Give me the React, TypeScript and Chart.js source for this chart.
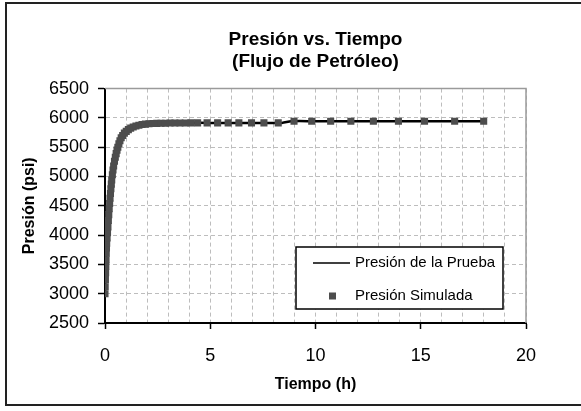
import React, { useEffect, useRef } from "react";
import { Chart, registerables } from "chart.js";

Chart.register(...registerables);

// Simulated pressure (markers)
const simTimes = [
  0.0, 0.01, 0.02, 0.03, 0.04, 0.05, 0.06, 0.07, 0.08, 0.1, 0.12, 0.14, 0.16, 0.18, 0.2,
  0.22, 0.24, 0.26, 0.28, 0.3, 0.32, 0.35, 0.38, 0.41, 0.45, 0.49, 0.53, 0.57, 0.61, 0.66,
  0.71, 0.77, 0.84, 0.92, 1.01, 1.11, 1.22, 1.34, 1.47, 1.61, 1.76, 1.92, 2.09, 2.27, 2.46,
  2.66, 2.87, 3.09, 3.32, 3.56, 3.81, 4.08, 4.4, 4.85, 5.35, 5.85, 6.36, 6.96, 7.55, 8.23,
  8.98, 9.82, 10.72, 11.68, 12.75, 13.94, 15.18, 16.61, 17.99,
];
const simPressures = [
  3000, 3120, 3240, 3360, 3470, 3580, 3690, 3780, 3860, 3950, 4040, 4140, 4250, 4350, 4450,
  4540, 4630, 4710, 4790, 4870, 4940, 5030, 5110, 5180, 5260, 5330, 5390, 5450, 5500, 5560,
  5610, 5660, 5700, 5740, 5770, 5800, 5825, 5845, 5862, 5876, 5886, 5894, 5900, 5904, 5907,
  5909, 5910, 5912, 5913, 5914, 5914, 5915, 5915, 5915, 5915, 5915, 5915, 5915, 5915, 5915,
  5943, 5943, 5943, 5944, 5944, 5944, 5944, 5944, 5944,
];

// Test pressure (line)
const testTimes = [
  0, 0.05, 0.1, 0.2, 0.3, 0.4, 0.5, 0.6, 0.8, 1.0, 1.3, 1.6, 2.0, 2.5, 3.0, 4.0, 5.0, 6.0,
  7.0, 8.4, 8.85, 10, 12, 14, 16, 18,
];
const testPressures = [
  3000, 3580, 3950, 4450, 4870, 5150, 5350, 5490, 5690, 5765, 5835, 5874, 5898, 5908, 5912,
  5915, 5915, 5915, 5915, 5915, 5943, 5943, 5944, 5944, 5944, 5944,
];

const xTicks = [0, 5, 10, 15, 20];
const yTicks = [2500, 3000, 3500, 4000, 4500, 5000, 5500, 6000, 6500];

const titleLines = ["Presión vs. Tiempo", "(Flujo de Petróleo)"];
const xTitle = "Tiempo (h)";
const yTitle = "Presión (psi)";
const testLabel = "Presión de la Prueba";
const simLabel = "Presión Simulada";

const FONT = "'Liberation Sans', Arial, sans-serif";
const MARKER = "#4d4d4d";
const GRID = "#bdbdbd";

const framePlugin = {
  id: "frameAndLegend",
  afterDatasetsDraw(chart: any) {
    const { ctx, chartArea } = chart;
    const { left, right, top, bottom } = chartArea;
    ctx.save();
    // gray top / right frame
    ctx.strokeStyle = "#9a9a9a";
    ctx.lineWidth = 1.5;
    ctx.beginPath();
    ctx.moveTo(left, top);
    ctx.lineTo(right, top);
    ctx.lineTo(right, bottom);
    ctx.stroke();

    // legend box
    const bx = right - 230;
    const by = bottom - 76;
    const bw = 207;
    const bh = 62;
    ctx.fillStyle = "#ffffff";
    ctx.fillRect(bx, by, bw, bh);
    ctx.strokeStyle = "#000000";
    ctx.lineWidth = 1.5;
    ctx.strokeRect(bx, by, bw, bh);

    const ds = chart.data.datasets;
    ctx.font = `15px ${FONT}`;
    ctx.textAlign = "left";
    ctx.textBaseline = "middle";
    ctx.fillStyle = "#000000";
    // line item
    const y1 = by + 16;
    ctx.strokeStyle = "#000000";
    ctx.lineWidth = 1.5;
    ctx.beginPath();
    ctx.moveTo(bx + 17, y1);
    ctx.lineTo(bx + 54, y1);
    ctx.stroke();
    ctx.fillText(ds[1].label, bx + 59, y1);
    // marker item
    const y2 = by + 49;
    ctx.fillStyle = MARKER;
    ctx.fillRect(bx + 33, y2 - 3.5, 7, 7);
    ctx.fillStyle = "#000000";
    ctx.fillText(ds[0].label, bx + 59, y2);
    ctx.restore();
  },
};

export default function App() {
  const canvasRef = useRef<HTMLCanvasElement | null>(null);

  useEffect(() => {
    const canvas = canvasRef.current;
    if (!canvas) return;
    const chart = new Chart(canvas, {
      type: "scatter",
      data: {
        datasets: [
          {
            label: simLabel,
            data: simTimes.map((t, i) => ({ x: t, y: simPressures[i] })),
            showLine: false,
            pointStyle: "rect",
            pointRadius: 5,
            pointBorderWidth: 0,
            backgroundColor: MARKER,
            borderColor: MARKER,
            order: 0,
          },
          {
            label: testLabel,
            data: testTimes.map((t, i) => ({ x: t, y: testPressures[i] })),
            showLine: true,
            borderColor: "#000000",
            borderWidth: 2.5,
            pointRadius: 0,
            tension: 0.3,
            order: 1,
          },
        ],
      },
      options: {
        animation: false,
        responsive: false,
        devicePixelRatio: 1,
        layout: { padding: { left: 0, right: 55, top: 0, bottom: 8 } },
        plugins: {
          legend: { display: false },
          tooltip: { enabled: false },
          title: {
            display: true,
            fullSize: false,
            text: titleLines,
            color: "#000000",
            font: { family: FONT, size: 19, weight: "bold", lineHeight: 1.2 },
            padding: { top: 28, bottom: 15 },
          },
        },
        scales: {
          x: {
            type: "linear",
            min: 0,
            max: 20,
            afterFit: (s: any) => {
              s.height = 80;
            },
            afterBuildTicks: (s: any) => {
              const arr = [];
              for (let v = xTicks[0]; v <= xTicks[xTicks.length - 1]; v += 1) arr.push({ value: v });
              s.ticks = arr;
            },
            ticks: {
              autoSkip: false,
              maxRotation: 0,
              padding: 16,
              color: "#000000",
              font: { family: FONT, size: 18 },
              callback: (v: any) => (xTicks.includes(v) ? String(v) : ""),
            },
            grid: {
              color: (c: any) => (c.tick && c.tick.value === 0 ? "rgba(0,0,0,0)" : GRID),
              lineWidth: 1,
              tickLength: 6,
              tickWidth: 1.5,
              tickColor: (c: any) => (c.tick && xTicks.includes(c.tick.value) ? "#000000" : "rgba(0,0,0,0)"),
            },
            border: { display: true, color: "#000000", width: 2, dash: [4, 3] },
            title: {
              display: true,
              text: xTitle,
              color: "#000000",
              font: { family: FONT, size: 16, weight: "bold", lineHeight: 1.2 },
              padding: { top: 0, bottom: 9 },
            },
          },
          y: {
            type: "linear",
            min: yTicks[0],
            max: yTicks[yTicks.length - 1],
            afterFit: (s: any) => {
              s.width = 105;
            },
            ticks: {
              stepSize: 500,
              padding: 9,
              color: "#000000",
              font: { family: FONT, size: 18 },
              callback: (v: any) => String(v),
            },
            grid: {
              color: (c: any) => (c.tick && c.tick.value === yTicks[0] ? "rgba(0,0,0,0)" : GRID),
              lineWidth: 1,
              tickLength: 7,
              tickWidth: 1.5,
              tickColor: "#000000",
            },
            border: { display: true, color: "#000000", width: 2, dash: [4, 3] },
            title: {
              display: true,
              text: yTitle,
              color: "#000000",
              font: { family: FONT, size: 16, weight: "bold", lineHeight: 1.2 },
              padding: { top: 20, bottom: 0 },
            },
          },
        },
      },
      plugins: [framePlugin],
    });
    return () => chart.destroy();
  }, []);

  return (
    <div style={{ position: "absolute", left: 0, top: 0, width: 581, height: 411, overflow: "hidden", background: "#ffffff" }}>
      <div
        style={{
          position: "absolute",
          left: 5,
          top: 2,
          width: 620,
          height: 404,
          border: "2px solid #222222",
          boxSizing: "border-box",
        }}
      />
      <canvas ref={canvasRef} width={581} height={411} style={{ position: "absolute", left: 0, top: 0, width: 581, height: 411 }} />
    </div>
  );
}
